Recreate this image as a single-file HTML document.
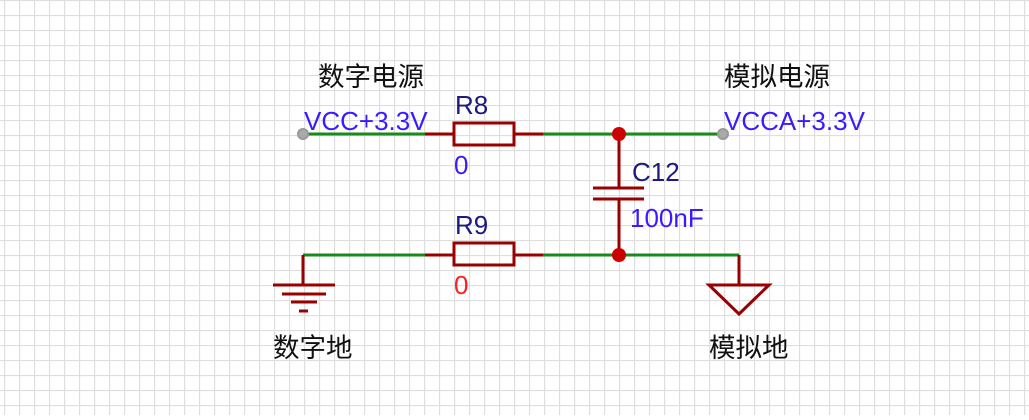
<!DOCTYPE html>
<html><head><meta charset="utf-8"><style>
html,body{margin:0;padding:0;background:#fff;}
body{width:1029px;height:415px;overflow:hidden;}
text{font-family:"Liberation Sans","Noto Sans CJK SC",sans-serif;}
</style></head><body>
<svg width="1029" height="415" xmlns="http://www.w3.org/2000/svg">
<defs>
<pattern id="g" x="4" y="0" width="15" height="15" patternUnits="userSpaceOnUse">
<path d="M0.5 0V15M0 0.5H15" stroke="#dedede" stroke-width="1.3" fill="none"/>
</pattern>
</defs>
<rect width="1029" height="415" fill="url(#g)"/>
<g stroke="#1a8a1a" stroke-width="3" fill="none">
<line x1="303" y1="134" x2="425" y2="134"/>
<line x1="543" y1="134" x2="723" y2="134"/>
<line x1="303" y1="255" x2="425" y2="255"/>
<line x1="543" y1="255" x2="739" y2="255"/>
</g>
<g stroke="#990000" stroke-width="3" fill="none">
<line x1="425" y1="134" x2="453" y2="134"/>
<rect x="454" y="123" width="60" height="22"/>
<line x1="514" y1="134" x2="543" y2="134"/>
<line x1="425" y1="255" x2="453" y2="255"/>
<rect x="454" y="243" width="60" height="22"/>
<line x1="514" y1="255" x2="543" y2="255"/>
<line x1="619" y1="134" x2="619" y2="188"/>
<line x1="593" y1="188" x2="644" y2="188"/>
<line x1="593" y1="199" x2="644" y2="199"/>
<line x1="619" y1="199" x2="619" y2="255"/>
<line x1="739" y1="255" x2="739" y2="285"/>
<polygon points="709,285 769,285 739,314"/>
<line x1="303" y1="255" x2="303" y2="285"/>
<line x1="273" y1="285" x2="335" y2="285"/>
<line x1="282" y1="294" x2="326" y2="294"/>
<line x1="291" y1="302" x2="317" y2="302"/>
<line x1="299" y1="311" x2="308" y2="311"/>
</g>
<circle cx="619" cy="134" r="7" fill="#cc0000"/>
<circle cx="619" cy="255" r="7" fill="#cc0000"/>
<circle cx="303" cy="134" r="5" fill="#aaa" stroke="#999" stroke-width="2"/>
<circle cx="723" cy="134" r="5" fill="#aaa" stroke="#999" stroke-width="2"/>
<g font-size="26.5" fill="#111">
<text x="318" y="86">数字电源</text>
<text x="724" y="86">模拟电源</text>
<text x="273" y="357">数字地</text>
<text x="709" y="357">模拟地</text>
</g>
<g font-size="26" fill="#3a1aff">
<text x="304" y="130">VCC+3.3V</text>
<text x="724" y="130">VCCA+3.3V</text>
<text x="630" y="227">100nF</text>
<text x="454" y="174">0</text>
</g>
<text x="454" y="294" font-size="26" fill="#ff2020">0</text>
<g font-size="26" fill="#1a1a80">
<text x="455" y="114">R8</text>
<text x="455" y="234">R9</text>
<text x="632" y="181">C12</text>
</g>
</svg>
</body></html>
